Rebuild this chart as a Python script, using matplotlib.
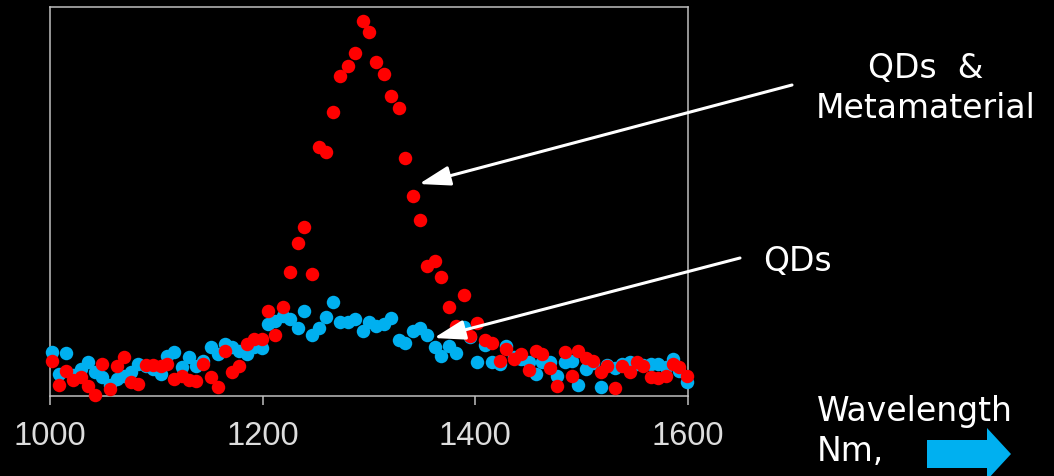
import matplotlib
matplotlib.use("Agg")
import matplotlib.pyplot as plt
from matplotlib.patches import Polygon

# Emission spectra (arbitrary units) sampled on a common wavelength grid (nm)
wavelength_nm = [
    1002, 1008, 1015, 1022, 1029, 1036, 1042, 1049, 1056, 1063,
    1070, 1076, 1083, 1090, 1097, 1104, 1110, 1117, 1124, 1131,
    1137, 1144, 1151, 1158, 1165, 1171, 1178, 1185, 1192, 1199,
    1205, 1212, 1219, 1226, 1233, 1239, 1246, 1253, 1260, 1266,
    1273, 1280, 1287, 1294, 1300, 1307, 1314, 1321, 1328, 1334,
    1341, 1348, 1355, 1362, 1368, 1375, 1382, 1389, 1395, 1402,
    1409, 1416, 1423, 1429, 1436, 1443, 1450, 1457, 1463, 1470,
    1477, 1484, 1491, 1497, 1504, 1511, 1518, 1524, 1531, 1538,
    1545, 1552, 1558, 1565, 1572, 1579, 1586, 1592, 1599,
]

qds_only = [
    44, 22, 43, 21, 27, 34, 24, 19, 11, 17,
    20, 24, 32, 30, 27, 22, 40, 44, 29, 39,
    30, 35, 49, 42, 52, 49, 45, 42, 49, 48,
    72, 75, 80, 77, 68, 85, 61, 68, 79, 94,
    74, 74, 77, 65, 74, 70, 72, 78, 56, 53,
    65, 68, 61, 49, 40, 50, 43, 69, 59, 34,
    51, 34, 32, 50, 39, 37, 34, 22, 34, 34,
    20, 34, 35, 11, 27, 33, 9, 31, 28, 32,
    34, 32, 31, 32, 32, 29, 37, 25, 14,
]

qds_metamaterial = [
    35, 11, 25, 16, 19, 10, 1, 32, 7, 30,
    39, 14, 12, 31, 31, 30, 32, 17, 20, 16,
    15, 32, 19, 9, 45, 24, 30, 52, 57, 57,
    85, 61, 89, 124, 153, 169, 122, 249, 244, 284,
    320, 330, 343, 375, 364, 334, 322, 300, 288, 238,
    200, 176, 130, 135, 119, 89, 70, 101, 60, 73,
    56, 53, 35, 47, 37, 42, 26, 45, 42, 28,
    10, 44, 20, 45, 38, 35, 24, 30, 8, 30,
    24, 34, 30, 19, 18, 20, 32, 29, 20,
]

x_ticks = [1000, 1200, 1400, 1600]

BLUE = "#00B0F0"
RED = "#FF0000"
W, H = 1054, 477

fig = plt.figure(figsize=(W / 100, H / 100), dpi=100, facecolor="black")
ax = fig.add_axes([50 / W, (H - 397) / H, 638 / W, 389 / H], facecolor="black")

ax.scatter(wavelength_nm, qds_only, s=94, color=BLUE, linewidths=0,
           clip_on=False, zorder=3)
ax.scatter(wavelength_nm, qds_metamaterial, s=94, color=RED, linewidths=0,
           clip_on=False, zorder=4)

ax.set_xlim(1000, 1600)
ax.set_ylim(0, 389)
ax.set_xticks(x_ticks)
ax.set_xticklabels([str(t) for t in x_ticks], family="Liberation Sans",
                   fontsize=23.5, color="#DDDDDD")
ax.tick_params(axis="x", direction="out", length=6.5, width=1.1,
               color="#BFBFBF", pad=11)
ax.set_yticks([])
for side, sp in ax.spines.items():
    sp.set_color("#BFBFBF")
    sp.set_linewidth(1.1)

# Callout arrows from the labels to the curves
arrow_kw = dict(arrowstyle="-|>,head_length=1.9,head_width=0.6",
                color="white", lw=2.2, mutation_scale=10,
                shrinkA=0, shrinkB=0)
ax.annotate("", xy=(1347, 212), xycoords="data",
            xytext=(792, H - 86), textcoords="figure pixels",
            arrowprops=arrow_kw, zorder=6, annotation_clip=False)
ax.annotate("", xy=(1361, 58), xycoords="data",
            xytext=(740, H - 259), textcoords="figure pixels",
            arrowprops=arrow_kw, zorder=6, annotation_clip=False)

label_kw = dict(family="DejaVu Sans", fontsize=23.8, color="white",
                va="baseline")
fig.text(926 / W, (H - 78) / H, "QDs  &", ha="center", **label_kw)
fig.text(925.5 / W, (H - 118) / H, "Metamaterial", ha="center", **label_kw)
fig.text(763 / W, (H - 271) / H, "QDs", ha="left", **label_kw)
fig.text(817 / W, (H - 421) / H, "Wavelength", ha="left", **label_kw)
fig.text(817 / W, (H - 461) / H, "Nm,", ha="left", **label_kw)

# Block arrow pointing along the wavelength axis
arrow_px = [(927, 441), (987, 441), (987, 429), (1011, 455),
            (987, 481), (987, 469), (927, 469)]
fig.patches.append(Polygon([(x / W, (H - y) / H) for x, y in arrow_px],
                           closed=True, transform=fig.transFigure,
                           facecolor=BLUE, edgecolor="none"))

fig.savefig("out.png", dpi=100, facecolor="black")
